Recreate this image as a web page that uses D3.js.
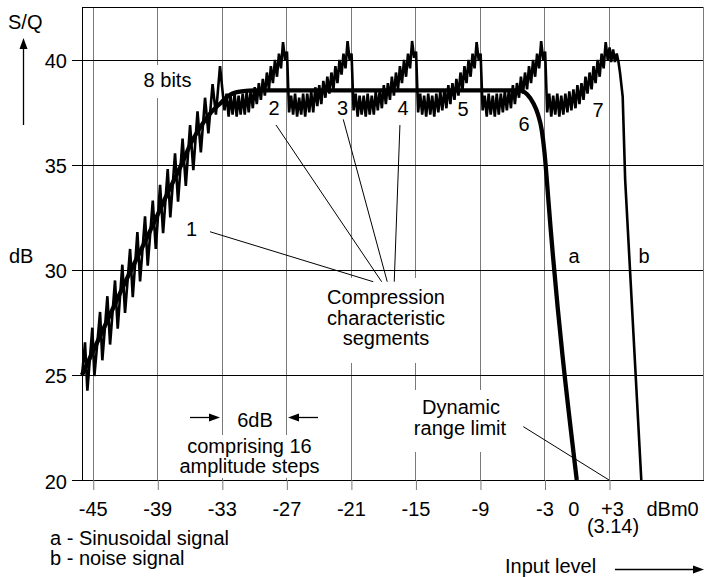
<!DOCTYPE html>
<html lang="en">
<head>
<meta charset="UTF-8">
<title>S/Q versus input level</title>
<style>
  html, body { margin: 0; padding: 0; background: #fff; }
  svg text { font-family: "Liberation Sans", Arial, Helvetica, sans-serif; font-size: 20px; fill: #000; }
</style>
</head>
<body>
<svg id="chart" width="705" height="577"></svg>
<script src="https://d3js.org/d3.v7.min.js"></script>
<script>
  // axis ticks (input level in dBm0, S/Q in dB)
  const xTicks = [-45, -39, -33, -27, -21, -15, -9, -3, 3];
  const yTicks = [20, 25, 30, 35, 40];

  // curve a: smooth characteristic
  const aX = [-46, -44, -42, -40, -38, -36.5, -36, -35, -34, -33, -32.5, -32, -31, -30, -5.3, -4.6, -4.04, -3.6, -3.26, -3.0, -2.8, -2.64, 0];
  const aY = [25.0, 27.2, 29.4, 31.5, 33.7, 35.3, 35.9, 36.8, 37.5, 38.0, 38.25, 38.4, 38.52, 38.55, 38.55, 38.35, 37.94, 37.4, 36.67, 35.6, 34.4, 33.33, 20];

  // sawtooth curve, segment 1 (linear part)
  const riseX = [-46.0, -45.72, -45.5, -45.04, -44.85, -44.32, -44.11, -43.64, -43.39, -42.93,
    -42.68, -42.25, -42.0, -41.53, -41.28, -40.85, -40.6, -40.14, -39.89, -39.42,
    -39.14, -38.74, -38.46, -38.03, -37.79, -37.35, -37.07, -36.65, -36.35, -35.95,
    -35.65, -35.26, -34.95, -34.56, -34.25, -33.86, -33.55, -33.17];
  const riseY = [24.95, 26.55, 24.25, 27.25, 24.95, 28.0, 25.7, 28.75, 26.45, 29.5,
    27.2, 30.25, 27.95, 31.0, 28.7, 31.8, 29.45, 32.55, 30.2, 33.3,
    31.0, 34.05, 31.75, 34.8, 32.5, 35.55, 33.25, 36.25, 34.0, 36.9,
    34.75, 37.55, 35.6, 38.2, 36.5, 38.85, 37.4, 39.7];

  // segments 2..6: start of each segment and tooth positions inside it
  const segStarts = [-33, -27, -21, -15, -9];
  const toothOffsets = [0.25, 0.44, 0.63, 0.81, 1.0, 1.19, 1.38, 1.56, 1.75, 1.94, 2.13, 2.31, 2.5, 2.69, 2.88, 3.06,
    3.25, 3.44, 3.63, 3.81, 4.0, 4.19, 4.38, 4.56, 4.75, 4.94, 5.13, 5.31, 5.5, 5.69, 5.88, 6.06];
  const seg2 = [37.6, 38.4, 37.3, 38.3, 37.4, 38.4, 37.3, 38.3, 37.4, 38.4, 37.4, 38.5, 37.5, 38.6, 37.7, 38.7,
    37.9, 38.9, 38.1, 39.1, 38.3, 39.4, 38.6, 39.7, 38.9, 40.0, 39.2, 40.3, 39.6, 40.85, 40.0, 40.4];
  const seg3 = [37.5, 38.3, 37.4, 38.4, 37.3, 38.2, 37.4, 38.4, 37.3, 38.4, 37.5, 38.5, 37.5, 38.7, 37.8, 38.8,
    37.9, 39.0, 38.2, 39.2, 38.4, 39.4, 38.6, 39.7, 38.9, 40.0, 39.3, 40.3, 39.6, 40.9, 40.0, 40.3];
  const seg4 = [37.6, 38.4, 37.3, 38.3, 37.4, 38.3, 37.3, 38.4, 37.4, 38.3, 37.4, 38.5, 37.6, 38.6, 37.7, 38.8,
    37.9, 38.9, 38.1, 39.2, 38.3, 39.4, 38.6, 39.7, 38.9, 40.0, 39.2, 40.3, 39.6, 40.9, 40.1, 40.4];
  const seg5 = [37.5, 38.4, 37.4, 38.3, 37.3, 38.4, 37.4, 38.3, 37.3, 38.4, 37.5, 38.5, 37.6, 38.6, 37.7, 38.8,
    37.9, 38.9, 38.1, 39.1, 38.3, 39.4, 38.6, 39.7, 38.9, 40.0, 39.2, 40.3, 39.6, 40.85, 40.0, 40.3];
  const seg6 = [37.6, 38.3, 37.3, 38.4, 37.4, 38.3, 37.3, 38.4, 37.4, 38.4, 37.5, 38.5, 37.6, 38.6, 37.7, 38.8,
    37.9, 38.9, 38.2, 39.2, 38.4, 39.4, 38.6, 39.7, 38.9, 40.0, 39.2, 40.3, 39.6, 40.9, 40.0, 40.4];
  const segValues = [seg2, seg3, seg4, seg5, seg6];

  // segment 7 and overload drop (curve b)
  const seg7X = [-2.75, -2.56, -2.37, -2.19, -2.0, -1.81, -1.62, -1.44, -1.25, -1.06,
    -0.87, -0.69, -0.5, -0.31, -0.12, 0.06, 0.25, 0.44, 0.63, 0.81,
    1.0, 1.19, 1.38, 1.56, 1.75, 1.94, 2.13, 2.31, 2.5, 2.69,
    2.88, 3.05, 3.2, 3.38, 3.55, 3.72, 3.88, 4.02, 4.27, 4.5, 6.0];
  const seg7Y = [37.5, 38.4, 37.3, 38.3, 37.4, 38.4, 37.3, 38.3, 37.4, 38.4,
    37.5, 38.5, 37.6, 38.6, 37.7, 38.8, 37.9, 38.9, 38.1, 39.2,
    38.4, 39.4, 38.6, 39.7, 38.9, 40.0, 39.2, 40.3, 39.6, 40.85,
    40.0, 40.6, 39.9, 40.5, 39.9, 40.3, 39.9, 39.4, 38.25, 34.3, 20];

  // annotation labels
  const segLabels = ["1", "2", "3", "4", "5", "6", "7"];
  const segLabelX = [-35.82, -28.15, -21.78, -16.16, -10.58, -4.91, 1.97];
  const segLabelY = [31.62, 37.38, 37.38, 37.38, 37.33, 36.62, 37.28];
  const leaderFrom = [[-34.10, 31.82], [-27.96, 36.90], [-21.71, 37.17], [-16.44, 36.90], [-4.97, 22.54]];
  const leaderTo = [[-18.92, 29.44], [-18.14, 29.44], [-17.62, 29.44], [-16.97, 29.44], [3, 20]];

  const svg = d3.select("#chart");
  const x = d3.scaleLinear().domain([-46, 11.83]).range([82, 704]);
  const y = d3.scaleLinear().domain([20, 42.52]).range([480, 7]);
  const crisp = v => Math.round(v) + 0.5;
  const [plotLeft, plotRight] = x.range();
  const [plotBottom, plotTop] = y.range();

  // vertical grid (gray)
  svg.append("g").selectAll("line")
    .data(xTicks)
    .join("line")
    .attr("x1", d => crisp(x(d))).attr("x2", d => crisp(x(d)))
    .attr("y1", plotTop).attr("y2", plotBottom)
    .attr("stroke", "#7a7a7a");

  // horizontal grid (black), reaching out to the ticks on the left
  svg.append("g").selectAll("line")
    .data(yTicks)
    .join("line")
    .attr("x1", plotLeft - 10).attr("x2", plotRight)
    .attr("y1", d => crisp(y(d))).attr("y2", d => crisp(y(d)))
    .attr("stroke", "#000");

  // frame
  svg.append("line").attr("x1", crisp(plotLeft)).attr("x2", crisp(plotLeft)).attr("y1", plotTop).attr("y2", plotBottom).attr("stroke", "#000");
  svg.append("line").attr("x1", plotLeft).attr("x2", plotRight).attr("y1", crisp(plotTop)).attr("y2", crisp(plotTop)).attr("stroke", "#000");
  svg.append("line").attr("x1", plotRight - 0.5).attr("x2", plotRight - 0.5).attr("y1", plotTop).attr("y2", plotBottom).attr("stroke", "#7a7a7a");

  // white patches behind the text blocks
  const patches = [[140, 65, 55, 33], [322, 278, 130, 85], [405, 390, 112, 62], [176, 435, 148, 43]];
  svg.append("g").selectAll("rect")
    .data(patches)
    .join("rect")
    .attr("x", d => d[0]).attr("y", d => d[1]).attr("width", d => d[2]).attr("height", d => d[3])
    .attr("fill", "#fff");

  // axes
  const fmt = d => d > 0 ? "+" + d : String(d);
  const xAxis = svg.append("g")
    .attr("transform", `translate(0,${crisp(plotBottom) - 0.5})`)
    .call(d3.axisBottom(x).tickValues(xTicks).tickSize(10).tickPadding(12).tickFormat(fmt));
  xAxis.select(".domain").remove();
  xAxis.selectAll(".tick line").attr("stroke", "#7a7a7a").attr("transform", "translate(0.5,0)");
  xAxis.selectAll(".tick text").filter(d => d > 0).attr("dx", 3);

  const yAxis = svg.append("g")
    .attr("transform", `translate(${plotLeft},0)`)
    .call(d3.axisLeft(y).tickValues(yTicks).tickSize(10).tickPadding(5).tickFormat(d => String(d)));
  yAxis.select(".domain").remove();
  yAxis.selectAll(".tick line").remove();
  yAxis.selectAll("text").attr("dy", "0.4em");

  // curves
  const lineA = d3.line().x(d => x(d[0])).y(d => y(d[1])).curve(d3.curveMonotoneX);
  svg.append("path")
    .datum(aX.map((v, i) => [v, aY[i]]))
    .attr("d", lineA)
    .attr("fill", "none").attr("stroke", "#000").attr("stroke-width", 4.3);

  let saw = riseX.map((v, i) => [v, riseY[i]]);
  segStarts.forEach((s, k) => {
    toothOffsets.forEach((o, i) => saw.push([s + o, segValues[k][i]]));
  });
  seg7X.forEach((v, i) => saw.push([v, seg7Y[i]]));
  const lineSaw = d3.line().x(d => x(d[0])).y(d => y(d[1]));
  svg.append("path")
    .datum(saw)
    .attr("d", lineSaw)
    .attr("fill", "none").attr("stroke", "#000").attr("stroke-width", 2.6)
    .attr("stroke-linejoin", "miter").attr("stroke-miterlimit", 3);

  // leader lines
  svg.append("g").selectAll("line")
    .data(leaderFrom)
    .join("line")
    .attr("x1", d => x(d[0])).attr("y1", d => y(d[1]))
    .attr("x2", (d, i) => x(leaderTo[i][0])).attr("y2", (d, i) => y(leaderTo[i][1]))
    .attr("stroke", "#000").attr("stroke-width", 1);

  // segment numbers
  svg.append("g").selectAll("text")
    .data(segLabels)
    .join("text")
    .attr("x", (d, i) => x(segLabelX[i])).attr("y", (d, i) => y(segLabelY[i]))
    .attr("text-anchor", "middle")
    .text(d => d);

  const label = (t, px, py, anchor) => svg.append("text")
    .attr("x", px).attr("y", py).attr("text-anchor", anchor || "middle").text(t);

  label("8 bits", 167.5, 87);
  label("a", 574, 263);
  label("b", 644, 263);
  label("Compression", 386, 304);
  label("characteristic", 386, 325);
  label("segments", 386, 345);
  label("Dynamic", 461, 414);
  label("range limit", 460, 435);
  label("6dB", 255, 427);
  label("comprising 16", 249.5, 453);
  label("amplitude steps", 249.5, 473);
  label("0", x(0) - 3, 516);
  label("(3.14)", x(3) + 4, 533);
  label("dBm0", 646.5, 516, "start");
  label("S/Q", 8, 29, "start");
  label("dB", 9, 263, "start");
  label("a - Sinusoidal signal", 50, 545, "start");
  label("b - noise signal", 50, 565, "start");
  label("Input level", 505, 573, "start");

  // arrows
  const arrow = (x1, y1, x2, y2) => {
    const ang = Math.atan2(y2 - y1, x2 - x1), len = 11, hw = 4;
    svg.append("line").attr("x1", x1).attr("y1", y1).attr("x2", x2 - Math.cos(ang) * len * 0.5).attr("y2", y2 - Math.sin(ang) * len * 0.5)
      .attr("stroke", "#000").attr("stroke-width", 1.3);
    const bx = x2 - Math.cos(ang) * len, by = y2 - Math.sin(ang) * len;
    const px = -Math.sin(ang) * hw, py = Math.cos(ang) * hw;
    svg.append("path")
      .attr("d", `M${x2},${y2}L${bx + px},${by + py}L${bx - px},${by - py}Z`)
      .attr("fill", "#000");
  };
  arrow(23.5, 125, 23.5, 38);
  arrow(190, 417.5, 220, 417.5);
  arrow(318, 417.5, 288, 417.5);
  arrow(615, 569.5, 704, 569.5);
</script>
</body>
</html>
